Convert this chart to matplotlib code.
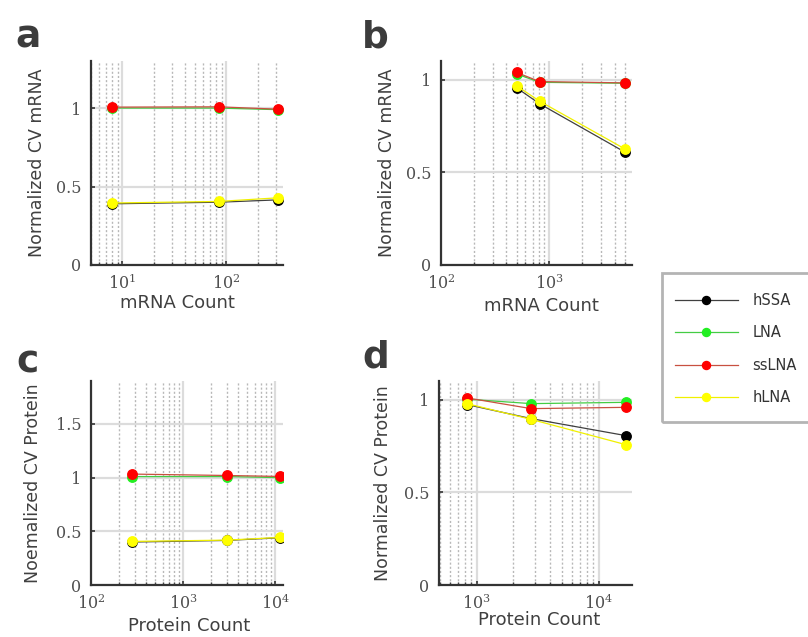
import matplotlib
matplotlib.use("Agg")
from matplotlib import pyplot as plt
from matplotlib.patches import Rectangle
from matplotlib.ticker import LogLocator, NullFormatter

# mRNA / protein count, normalized CV
mrna_a = [8, 84, 310]
hssa_a = [0.39, 0.40, 0.415]
lna_a = [1.0, 1.0, 0.99]
sslna_a = [1.006, 1.008, 0.993]
hlna_a = [0.395, 0.405, 0.428]

mrna_b = [500, 815, 5050]
hssa_b = [0.955, 0.869, 0.607]
lna_b = [1.03, 0.985, 0.98]
sslna_b = [1.038, 0.989, 0.982]
hlna_b = [0.966, 0.883, 0.624]

prot_c = [280, 2980, 11200]
hssa_c = [0.40, 0.415, 0.44]
lna_c = [1.01, 1.01, 1.0]
sslna_c = [1.033, 1.02, 1.011]
hlna_c = [0.406, 0.418, 0.443]

prot_d = [830, 2800, 16900]
hssa_d = [0.973, 0.897, 0.805]
lna_d = [1.002, 0.978, 0.985]
sslna_d = [1.009, 0.951, 0.958]
hlna_d = [0.978, 0.893, 0.756]

names = ["hSSA", "LNA", "ssLNA", "hLNA"]
line_cols = ["#404040", "#44cc44", "#c85040", "#f0f000"]
mark_cols = ["#000000", "#22ee22", "#ff0000", "#ffff00"]

plt.rcParams["mathtext.fontset"] = "dejavuserif"

W, H = 808, 637
fig = plt.figure(figsize=(W / 100, H / 100), dpi=100)

def box(l, r, t, b):
    return [l / W, 1 - b / H, (r - l) / W, (b - t) / H]

panels = [
    ("a", box(91, 283, 61, 265), mrna_a, [hssa_a, lna_a, sslna_a, hlna_a], (5, 350), 1.3, [0, 0.5, 1],
     "mRNA Count", "Normalized CV mRNA", (0.45, -0.185), -0.28, (15, 47)),
    ("b", box(441, 632, 61, 265), mrna_b, [hssa_b, lna_b, sslna_b, hlna_b], (100, 5800), 1.1, [0, 0.5, 1],
     "mRNA Count", "Normalized CV mRNA", (0.525, -0.2), -0.285, (362, 48)),
    ("c", box(91, 283, 381, 585), prot_c, [hssa_c, lna_c, sslna_c, hlna_c], (100, 12200), 1.9, [0, 0.5, 1, 1.5],
     "Protein Count", "Noemalized CV Protein", (0.51, -0.2), -0.30, (16, 372)),
    ("d", box(439, 632, 381, 585), prot_d, [hssa_d, lna_d, sslna_d, hlna_d], (490, 18800), 1.1, [0, 0.5, 1],
     "Protein Count", "Normalized CV Protein", (0.518, -0.17), -0.29, (362, 368)),
]

handles = None
for letter, pos, xs, series, xlim, ytop, yticks, xlab, ylab, xlc, ylc, lpos in panels:
    ax = fig.add_axes(pos)
    hs = []
    for ys, lc, mc, nm in zip(series, line_cols, mark_cols, names):
        h, = ax.plot(xs, ys, "-o", color=lc, lw=0.9, marker="o", ms=6.8,
                     mfc=mc, mec=mc, label=nm, zorder=3)
        hs.append(h)
    if handles is None:
        handles = hs
    ax.set_xscale("log")
    ax.set_xlim(*xlim)
    ax.set_ylim(0, ytop)
    ax.set_yticks(yticks)
    ax.set_yticklabels(["%g" % v for v in yticks])
    ax.xaxis.set_minor_locator(LogLocator(base=10, subs=range(2, 10), numticks=20))
    ax.xaxis.set_minor_formatter(NullFormatter())
    ax.grid(True, which="major", color="#dcdcdc", lw=1.6, zorder=0)
    ax.grid(True, which="minor", axis="x", color="#b8b8b8", lw=1.0, ls=(0, (1.5, 1.5)), zorder=0)
    for s in ["top", "right"]:
        ax.spines[s].set_visible(False)
    for s in ["left", "bottom"]:
        ax.spines[s].set_color("#333333")
        ax.spines[s].set_linewidth(1.6)
    ax.tick_params(which="both", direction="in", color="#333333", labelcolor="#505050",
                   labelsize=11.5)
    ax.tick_params(axis="y", pad=7)
    ax.tick_params(axis="x", pad=6.5)
    ax.tick_params(which="major", length=3, width=1.2)
    ax.tick_params(which="minor", length=2, width=1)
    for t in ax.get_xticklabels() + ax.get_yticklabels():
        t.set_fontfamily("DejaVu Serif")
    ax.set_xlabel(xlab, fontsize=13, color="#404040")
    ax.set_ylabel(ylab, fontsize=12.5, color="#404040")
    ax.xaxis.set_label_coords(*xlc)
    ax.xaxis.label.set_va("center")
    ax.yaxis.set_label_coords(ylc, 0.5)
    ax.yaxis.label.set_va("center")
    fig.text(lpos[0] / W, 1 - lpos[1] / H, letter, fontsize=27, fontweight="bold",
             color="#3c3c3c", ha="left", va="baseline")

# legend box (runs off the right edge like in the original)
fig.patches.append(Rectangle((662 / W, 1 - 422 / H), 160 / W, 149 / H, transform=fig.transFigure,
                             fill=False, ec="#b4b4b4", lw=2, clip_on=False))
leg = fig.legend(handles=handles, loc="upper left", bbox_to_anchor=(675 / W, 1 - 293 / H),
                 frameon=False, fontsize=10.5, handlelength=4.3, handletextpad=1.0,
                 labelspacing=1.19, borderpad=0, borderaxespad=0, markerscale=0.85)
for t in leg.get_texts():
    t.set_color("#333333")

fig.savefig("out.png", dpi=100)
